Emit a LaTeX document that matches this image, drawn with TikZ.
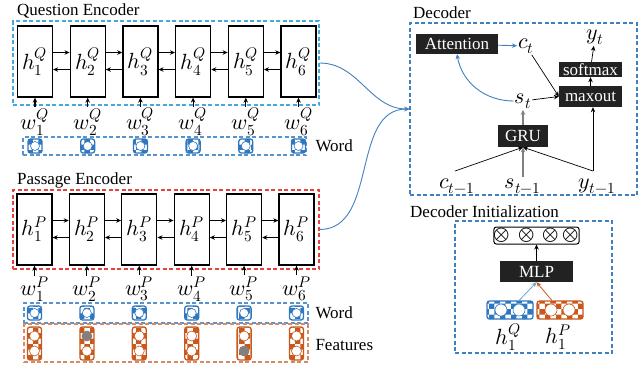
\documentclass[tikz,border=0pt]{standalone}
\usepackage{fontspec}
\usepackage{unicode-math}
\setmainfont{Liberation Serif}
\setmathfont{latinmodern-math.otf}
\usetikzlibrary{arrows.meta,patterns}
\definecolor{encblue}{HTML}{45A9E0}
\definecolor{encred}{HTML}{E8423F}
\definecolor{decblue}{HTML}{3F7FC2}
\definecolor{wordblue}{HTML}{2F78C0}
\definecolor{featorange}{HTML}{C9581C}
\definecolor{blkfill}{HTML}{222222}

\begin{document}
\begin{tikzpicture}[x=1pt,y=-1pt,>={Stealth[length=5pt,width=4.5pt]},
  font=\fontsize{17}{19}\selectfont,
  hbox/.style={draw,line width=1.3pt,minimum width=35pt,minimum height=71pt,inner sep=0pt,font=\fontsize{22}{24}\selectfont},
  encframe/.style={draw,line width=1.1pt,dash pattern=on 4pt off 2.5pt,inner sep=0pt},
  blk/.style={fill=blkfill,text=white,inner sep=0pt},
  lab/.style={font=\fontsize{22}{24}\selectfont,inner sep=1pt},
  wicon/.style={draw=wordblue,line width=1.3pt,rounded corners=2.5pt,pattern=checkerboard,pattern color=wordblue,minimum width=14pt,minimum height=14pt,inner sep=0pt},
  ficon/.style={wicon,draw=featorange,pattern color=featorange,minimum height=33pt},
  link/.style={->,line width=1.1pt}]
\useasboundingbox (0,0) rectangle (644,365);

\node[anchor=west,inner sep=0pt] (qtitle) at (17,11) {Question Encoder};
\node[anchor=west,inner sep=0pt] (ptitle) at (17,180) {Passage Encoder};
\node[anchor=west,inner sep=0pt] (dtitle) at (413,13) {Decoder};
\node[anchor=west,inner sep=0pt] (ititle) at (410,212) {Decoder Initialization};

\node[encframe,draw=encblue,minimum width=306pt,minimum height=84pt] (qenc) at (166,63) {};
\node[encframe,draw=encred,minimum width=306pt,minimum height=79pt] (penc) at (166,229.5) {};
\node[encframe,draw=wordblue!80,minimum width=283pt,minimum height=18pt] (qword) at (164.5,146) {};
\node[encframe,draw=wordblue!80,minimum width=284pt,minimum height=20pt] (pword) at (166,313) {};
\node[encframe,draw=featorange!70,minimum width=284pt,minimum height=38pt] (pfeat) at (166,343) {};
\node[anchor=west] (qwordlab) at (312,146) {Word};
\node[anchor=west] (pwordlab) at (312,313) {Word};
\node[anchor=west] (pfeatlab) at (312,345) {Features};

\foreach \i in {1,...,6}{
  \pgfmathsetmacro\xq{35+52.7*(\i-1)}
  \pgfmathsetmacro\xp{34.5+52.4*(\i-1)}
  \node[hbox] (q\i) at (\xq,61.5) {$h_{\i}^{Q}$};
  \node[hbox] (p\i) at (\xp,229.5) {$h_{\i}^{P}$};
  \node[lab] (wq\i) at (\xq,122) {$w_{\i}^{Q}$};
  \node[lab] (wp\i) at (\xp,289) {$w_{\i}^{P}$};
  \draw[link] (wq\i) -- (q\i);
  \draw[link] (wp\i) -- (p\i);
  \node[wicon] (iq\i) at (\xq,146) {};
  \node[wicon] (ip\i) at (\xp,313) {};
  \node[ficon] (fp\i) at (\xp,343.5) {};
  \draw[wordblue,fill=white,line width=0.6pt] (iq\i.center) circle (4.5pt);
  \draw[wordblue,fill=white,line width=0.6pt] (ip\i.center) circle (4.5pt);
  \draw[featorange,fill=white,line width=0.6pt] ([yshift=7.5pt]fp\i.center) circle (5pt);
  \draw[featorange,fill=white,line width=0.6pt] ([yshift=-7.5pt]fp\i.center) circle (5pt);
}
\fill[gray] ([yshift=7.5pt]fp2.center) circle (5pt);
\fill[gray] ([yshift=-7.5pt]fp5.center) circle (5pt);

\foreach \i [evaluate=\i as \j using int(\i+1)] in {1,...,5}{
  \draw[link] ([yshift=9pt]q\i.east) -- ([yshift=9pt]q\j.west);
  \draw[link] ([yshift=-8pt]q\j.west) -- ([yshift=-8pt]q\i.east);
  \draw[link] ([yshift=9pt]p\i.east) -- ([yshift=9pt]p\j.west);
  \draw[link] ([yshift=-8pt]p\j.west) -- ([yshift=-8pt]p\i.east);
}

\node[encframe,draw=decblue,minimum width=227pt,minimum height=172pt] (dec) at (523.5,109) {};
\node[blk,minimum width=82pt,minimum height=20pt] (att) at (457,44) {Attention};
\node[lab] (ct) at (526,46) {$c_t$};
\node[lab] (yt) at (595,37) {$y_t$};
\node[blk,minimum width=63pt,minimum height=15pt] (soft) at (590.5,69.5) {softmax};
\node[blk,minimum width=63pt,minimum height=21pt] (maxo) at (590.5,96.5) {maxout};
\node[lab] (st) at (523,101) {$s_t$};
\node[blk,minimum width=50pt,minimum height=22pt] (gru) at (523,136) {GRU};
\node[lab] (ctm) at (457,186) {$c_{t-1}$};
\node[lab] (stm) at (523,186) {$s_{t-1}$};
\node[lab] (ytm) at (597,186) {$y_{t-1}$};
\coordinate (cj) at (455,171);
\coordinate (yj) at (593,171);
\draw[->,decblue,line width=0.9pt] (att) -- (ct);
\draw[->,line width=0.7pt] (ct) -- (maxo.west);
\draw[->,line width=0.7pt] (st) -- (maxo.west);
\draw[->,decblue,line width=0.9pt] (st.west) to[out=180,in=-80] (att.south);
\draw[->,gray,line width=1.2pt] (gru) -- (st);
\draw[->,gray,line width=1.2pt] (stm) -- (gru);
\draw[->,line width=0.7pt] (cj) -- (gru.south);
\draw[->,line width=0.7pt] (yj) -- (gru.south);
\draw[->,line width=0.7pt] (yj) -- (yj |- maxo.south);
\draw[->,line width=0.7pt] (maxo) -- (soft);
\draw[->,line width=0.7pt] (soft) -- (yt);

\node[encframe,draw=decblue,minimum width=157pt,minimum height=132pt] (init) at (533.5,287) {};
\node[draw,line width=1pt,rounded corners=2.5pt,minimum width=81pt,minimum height=17pt,inner sep=0pt,font=\fontsize{21}{23}\selectfont] (outv) at (536.5,235.5) {$\otimes\,\otimes\,\otimes\,\otimes$};
\node[blk,minimum width=73pt,minimum height=21pt] (mlp) at (536.5,271.5) {MLP};
\node[wicon,minimum width=46pt,minimum height=18pt] (hq) at (510,310) {};
\node[ficon,minimum width=46pt,minimum height=18pt] (hp) at (560,310) {};
\draw[wordblue,fill=white,line width=0.6pt] ([xshift=-9pt]hq.center) circle (6pt);
\draw[wordblue,fill=white,line width=0.6pt] ([xshift=9pt]hq.center) circle (6pt);
\draw[featorange,fill=white,line width=0.6pt] ([xshift=-9pt]hp.center) circle (6pt);
\draw[featorange,fill=white,line width=0.6pt] ([xshift=9pt]hp.center) circle (6pt);
\node[lab] (hql) at (508,337) {$h_1^Q$};
\node[lab] (hpl) at (558,337) {$h_1^P$};
\draw[->,wordblue!70,line width=0.8pt] (hq) -- (mlp.south);
\draw[->,featorange,line width=0.8pt] (hp) -- (mlp.south);
\draw[->,line width=0.9pt] (mlp) -- (outv);

\draw[->,decblue,line width=0.9pt] (qenc.east) to[out=0,in=180] (dec.west);
\draw[->,decblue,line width=0.9pt] (penc.east) to[out=0,in=180] (dec.west);
\end{tikzpicture}
\end{document}
